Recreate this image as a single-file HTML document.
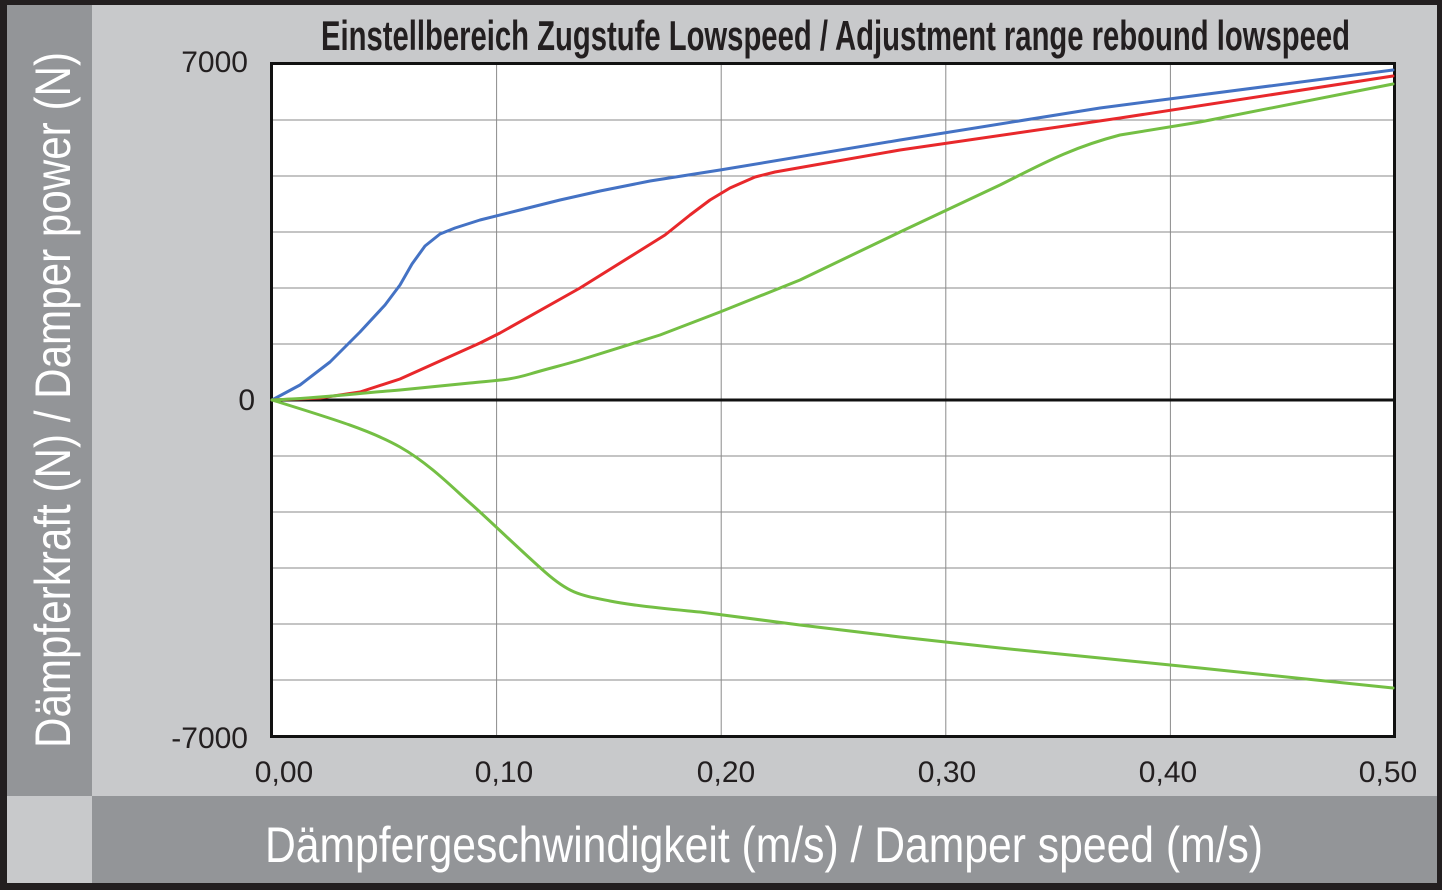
<!DOCTYPE html>
<html><head><meta charset="utf-8"><style>
html,body{margin:0;padding:0;background:#fff}
svg{display:block}
</style></head><body>
<svg width="1442" height="890" viewBox="0 0 1442 890" xmlns="http://www.w3.org/2000/svg">
<rect x="0" y="0" width="1442" height="890" fill="#231f20"/>
<rect x="7" y="5" width="1430" height="878" fill="#c8c9cb"/>
<rect x="7" y="5" width="85" height="791" fill="#939598"/>
<rect x="92" y="796" width="1345" height="87" fill="#939598"/>
<rect x="272" y="64" width="1122" height="672" fill="#fff"/>
<g stroke="#8a8a8a" stroke-width="1">
<line x1="496.6" y1="64" x2="496.6" y2="736"/>
<line x1="721.2" y1="64" x2="721.2" y2="736"/>
<line x1="945.8" y1="64" x2="945.8" y2="736"/>
<line x1="1170.4" y1="64" x2="1170.4" y2="736"/>
<line x1="272" y1="120" x2="1394" y2="120"/>
<line x1="272" y1="176" x2="1394" y2="176"/>
<line x1="272" y1="232" x2="1394" y2="232"/>
<line x1="272" y1="288" x2="1394" y2="288"/>
<line x1="272" y1="344" x2="1394" y2="344"/>
<line x1="272" y1="456" x2="1394" y2="456"/>
<line x1="272" y1="512" x2="1394" y2="512"/>
<line x1="272" y1="568" x2="1394" y2="568"/>
<line x1="272" y1="624" x2="1394" y2="624"/>
<line x1="272" y1="680" x2="1394" y2="680"/>
</g>
<line x1="272" y1="400" x2="1394" y2="400" stroke="#111" stroke-width="3"/>
<rect x="271.5" y="63.5" width="1123" height="673" fill="none" stroke="#111" stroke-width="3"/>
<g fill="none" stroke-width="3" stroke-linejoin="round" stroke-linecap="round">
<polyline stroke="#4472c4" points="272,400 300,385 330,362 360,332 385,305 400,285 412,264 425,246 440,234 455,228 480,220 520,210 560,200 600,191 650,181 720,170 900,140 1100,108 1393,70"/>
<polyline stroke="#e8282b" points="272,400 320,398 360,392 400,379 440,361 480,343 500,333 580,288 665,235 690,215 710,200 730,188 755,177 775,172 900,150 1120,118 1393,76"/>
<path stroke="#74bf44" d="M272,400 C320,398 350,394 400,390 L470,383 C500,380 510,380 530,374 S560,366 580,360 L660,335 L720,312 L800,280 L900,232 L1000,185 C1040,165 1070,148 1120,135 L1200,122 L1393,84"/>
<path stroke="#74bf44" d="M272,400 C330,418 370,430 400,447 S455,490 470,503 S520,550 545,572 S580,595 610,601 S680,610 700,612 L800,625 L900,637 L1000,648 L1100,658 L1200,668 L1393,688"/>
</g>
<g font-family="'Liberation Sans Narrow','Liberation Sans',sans-serif" fill="#231f20" font-size="30">
<text x="248" y="72" text-anchor="end">7000</text>
<text x="255" y="410" text-anchor="end">0</text>
<text x="248" y="748" text-anchor="end">-7000</text>
<text x="284" y="782" text-anchor="middle">0,00</text>
<text x="504" y="782" text-anchor="middle">0,10</text>
<text x="726" y="782" text-anchor="middle">0,20</text>
<text x="947" y="782" text-anchor="middle">0,30</text>
<text x="1168" y="782" text-anchor="middle">0,40</text>
<text x="1388" y="782" text-anchor="middle">0,50</text>
<text x="321" y="50" font-size="42" font-weight="bold" textLength="1029" lengthAdjust="spacingAndGlyphs">Einstellbereich Zugstufe Lowspeed / Adjustment range rebound lowspeed</text>
</g>
<g font-family="'Liberation Sans Narrow','Liberation Sans',sans-serif" fill="#fff" font-size="50">
<text x="265" y="862" textLength="998" lengthAdjust="spacingAndGlyphs">Dämpfergeschwindigkeit (m/s) / Damper speed (m/s)</text>
<text transform="translate(70,748) rotate(-90)" x="0" y="0" textLength="696" lengthAdjust="spacingAndGlyphs">Dämpferkraft (N) / Damper power (N)</text>
</g>
</svg>
</body></html>
